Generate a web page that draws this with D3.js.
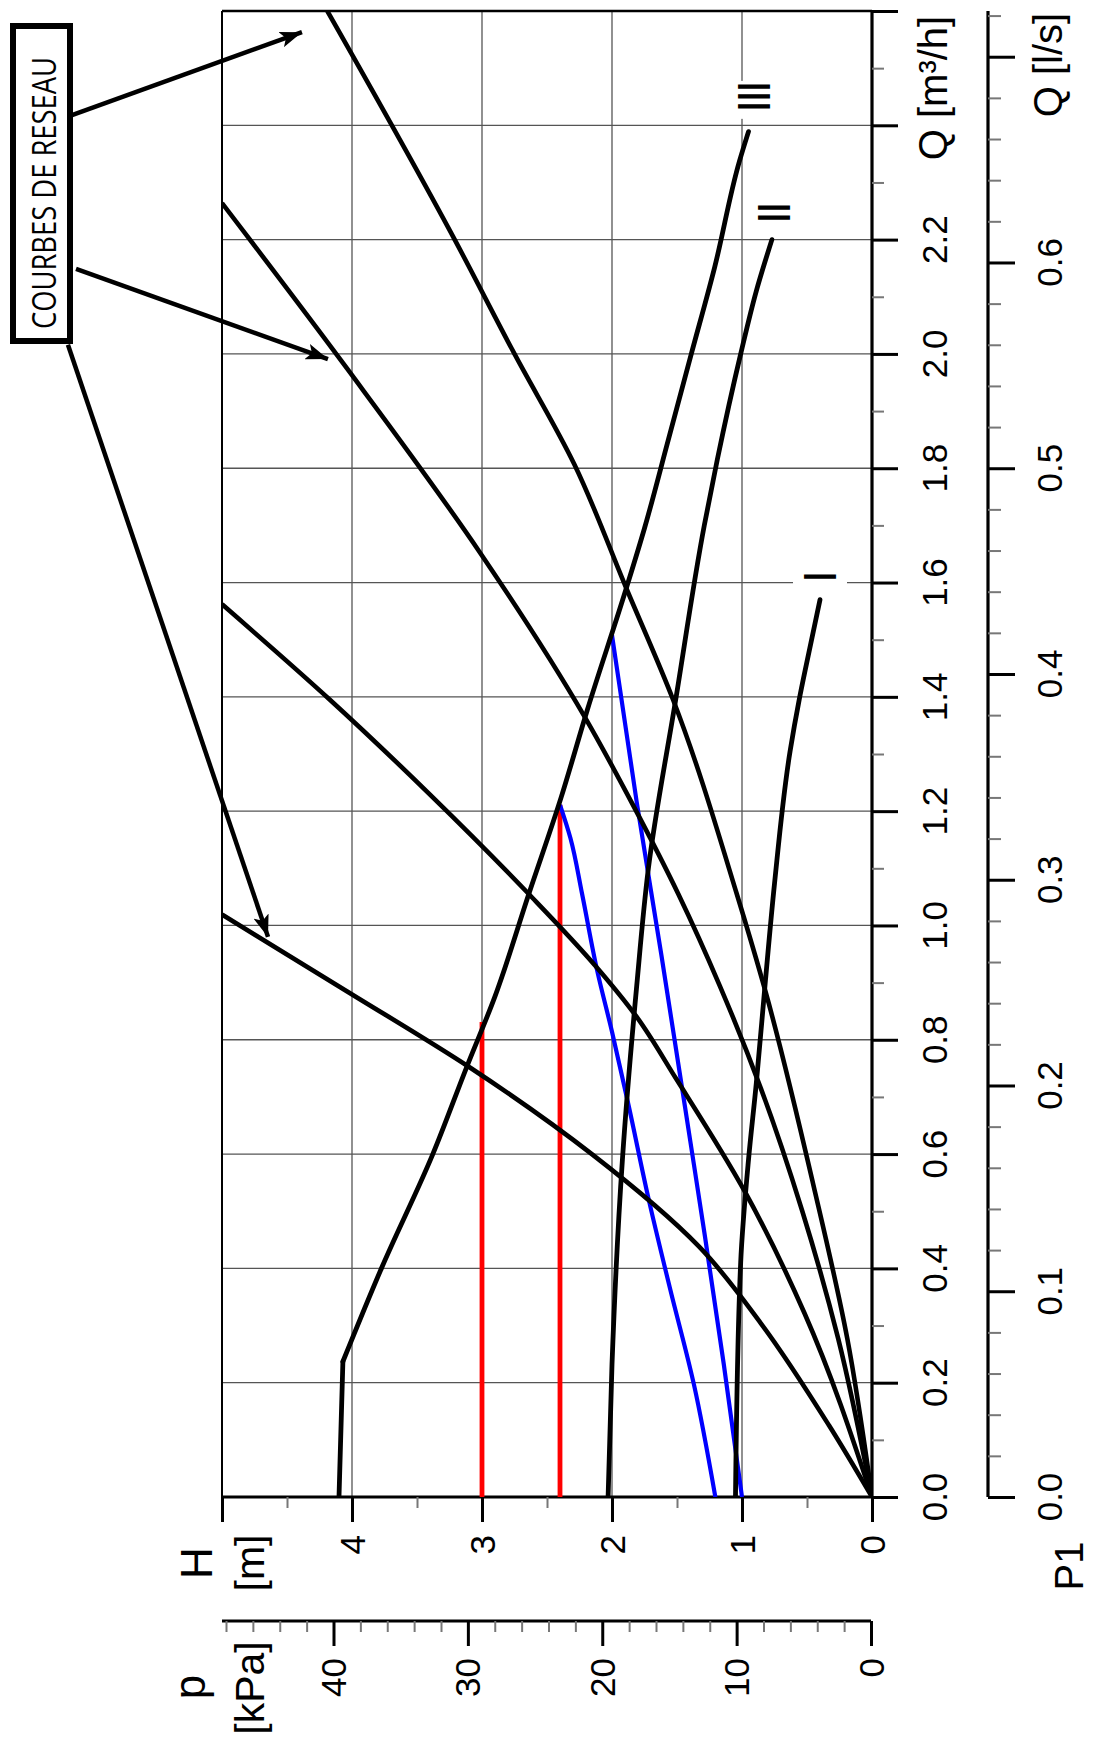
<!DOCTYPE html>
<html><head><meta charset="utf-8">
<script src="https://cdn.jsdelivr.net/npm/d3@7"></script>
<style>body{margin:0;background:#fff}svg{display:block}</style>
</head><body>
<svg id="c" width="1093" height="1738"></svg>
<script>
// ---------- data (Q in m3/h, H in m) ----------
const qMajor = [0,0.2,0.4,0.6,0.8,1.0,1.2,1.4,1.6,1.8,2.0,2.2,2.4,2.6];
const qMinor = [0.1,0.3,0.5,0.7,0.9,1.1,1.3,1.5,1.7,1.9,2.1,2.3,2.5];
const qLabels = ["0.0","0.2","0.4","0.6","0.8","1.0","1.2","1.4","1.6","1.8","2.0","2.2"];
const qlsMajor = [0,0.1,0.2,0.3,0.4,0.5,0.6,0.7];
const qlsMinor = [0.02,0.04,0.06,0.08,0.12,0.14,0.16,0.18,0.22,0.24,0.26,0.28,0.32,0.34,0.36,0.38,0.42,0.44,0.46,0.48,0.52,0.54,0.56,0.58,0.62,0.64,0.66,0.68,0.72];
const qlsLabels = ["0.0","0.1","0.2","0.3","0.4","0.5","0.6"];
const hMajor = [0,1,2,3,4,5];
const hMinor = [0.5,1.5,2.5,3.5,4.5];
const hLabels = ["0","1","2","3","4"];
const pMajor = [0,10,20,30,40];
const pMinor = [2,4,6,8,12,14,16,18,22,24,26,28,32,34,36,38,42,44,46,48];
const pLabels = ["0","10","20","30","40"];

// pump curves [Q, H]
const pumpI   = [[0,1.05],[0.411,1.01],[0.59,0.95],[0.724,0.89],[0.903,0.82],[1.073,0.75],[1.305,0.63],[1.395,0.56],[1.462,0.50],[1.57,0.40]];
const pumpII  = [[0,2.03],[0.232,2.0],[0.59,1.92],[0.894,1.81],[1.1,1.72],[1.395,1.51],[1.70,1.29],[1.815,1.19],[2.0,1.01],[2.11,0.89],[2.2,0.77]];
const pumpIIIflat = [[0,4.10],[0.237,4.07]];
const pumpIII = [[0.237,4.07],[0.402,3.77],[0.599,3.38],[0.751,3.12],[0.876,2.90],[1.055,2.64],[1.225,2.39],[1.377,2.19],[1.59,1.89],[1.695,1.75],[1.847,1.57],[2.0,1.39],[2.152,1.21],[2.337,1.02],[2.389,0.95]];
// network (system) curves [Q, H]
const net1 = [[0,0],[0.125,0.33],[0.304,0.855],[0.438,1.33],[0.599,2.15],[0.751,3.09],[0.885,4.04],[1.019,5.0]];
const net2 = [[0,0],[0.322,0.52],[0.536,0.982],[0.733,1.51],[0.84,1.81],[0.93,2.13],[1.055,2.64],[1.229,3.40],[1.395,4.17],[1.562,5.0]];
const net3 = [[0,0],[0.277,0.26],[0.50,0.536],[0.715,0.855],[0.894,1.17],[1.055,1.49],[1.207,1.83],[1.365,2.21],[1.654,3.02],[1.975,4.04],[2.264,5.0]];
const net4 = [[0,0],[0.277,0.19],[0.545,0.45],[0.885,0.82],[1.055,1.04],[1.395,1.53],[1.59,1.89],[1.807,2.29],[2.0,2.75],[2.2,3.21],[2.6,4.19]];
// control lines
const blue1 = [[0,1.205],[0.197,1.37],[0.367,1.556],[0.519,1.716],[0.688,1.875],[0.814,2.0],[0.921,2.114],[1.055,2.23],[1.153,2.32],[1.211,2.40]];
const blue2 = [[0,1.0],[0.232,1.14],[0.456,1.285],[0.626,1.40],[0.948,1.62],[1.216,1.81],[1.508,2.0]];
const red1 = [[0,3.0],[0.831,3.0]];
const red2 = [[0,2.40],[1.211,2.40]];
// curve labels [text, Q, H]
const curveLabels = [["III",2.448,0.915],["II",2.245,0.754],["I",1.608,0.40]];
// annotation arrows [Qstart, Hstart, Qtip, Htip]
const arrows = [[2.418,6.154,2.563,4.385],[2.149,6.123,1.991,4.185],[2.016,6.185,0.98,4.646]];

// ---------- scales ----------
const svg = d3.select("#c");
const hScale = d3.scaleLinear().domain([0,5]).range([872,222]);
const qScale = d3.scaleLinear().domain([0,2.6]).range([1497,11]);
const qlsScale = d3.scaleLinear().domain([0,2.6/3.6]).range([1497,11]);
const pScale = d3.scaleLinear().domain([0,40]).range([871,333.5]);
const FONT = "'Liberation Sans', Arial, Helvetica, sans-serif";

// ---------- grid ----------
const grid = svg.append("g").attr("stroke","#555").attr("stroke-width",1.3);
qMajor.filter(q=>q>0 && q<2.6).forEach(q=>{
  grid.append("line").attr("x1",hScale(5)).attr("x2",hScale(0)).attr("y1",qScale(q)).attr("y2",qScale(q));
});
hMajor.filter(h=>h>0 && h<5).forEach(h=>{
  grid.append("line").attr("x1",hScale(h)).attr("x2",hScale(h)).attr("y1",qScale(0)).attr("y2",qScale(2.6));
});
// frame (top + left)
svg.append("line").attr("x1",hScale(5)).attr("x2",hScale(0)).attr("y1",qScale(2.6)).attr("y2",qScale(2.6)).attr("stroke","#000").attr("stroke-width",2.5);
svg.append("line").attr("x1",hScale(5)).attr("x2",hScale(5)).attr("y1",qScale(2.6)).attr("y2",qScale(0)+25).attr("stroke","#000").attr("stroke-width",2);

// ---------- axes ----------
function styleAxis(g, col, w){
  g.select(".domain").remove();
  g.selectAll(".tick line").attr("stroke",col).attr("stroke-width",w);
  g.selectAll(".tick text").remove();
}
// Q m3/h axis
svg.append("line").attr("x1",872).attr("x2",872).attr("y1",qScale(2.6)).attr("y2",qScale(0)).attr("stroke","#000").attr("stroke-width",3.2);
svg.append("g").attr("transform","translate(872,0)").call(d3.axisRight(qScale).tickValues(qMinor).tickSize(12)).call(g=>styleAxis(g,"#777",2));
svg.append("g").attr("transform","translate(872,0)").call(d3.axisRight(qScale).tickValues(qMajor).tickSize(26)).call(g=>styleAxis(g,"#000",3));
qLabels.forEach((t,i)=>{
  svg.append("text").attr("transform",`translate(947,${qScale(qMajor[i])}) rotate(-90)`).attr("text-anchor","middle")
    .attr("font-family",FONT).attr("font-size",35).text(t);
});
svg.append("text").attr("transform",`translate(947,88) rotate(-90)`).attr("text-anchor","middle")
  .attr("font-family",FONT).attr("font-size",40).text("Q [m³/h]");

// Q l/s axis
svg.append("line").attr("x1",988).attr("x2",988).attr("y1",qScale(2.6)).attr("y2",qScale(0)).attr("stroke","#000").attr("stroke-width",3.2);
svg.append("g").attr("transform","translate(988,0)").call(d3.axisRight(qlsScale).tickValues(qlsMinor).tickSize(13)).call(g=>styleAxis(g,"#777",2));
svg.append("g").attr("transform","translate(988,0)").call(d3.axisRight(qlsScale).tickValues(qlsMajor).tickSize(27)).call(g=>styleAxis(g,"#000",3));
qlsLabels.forEach((t,i)=>{
  svg.append("text").attr("transform",`translate(1062,${qlsScale(qlsMajor[i])}) rotate(-90)`).attr("text-anchor","middle")
    .attr("font-family",FONT).attr("font-size",35).text(t);
});
svg.append("text").attr("transform",`translate(1062,65) rotate(-90)`).attr("text-anchor","middle")
  .attr("font-family",FONT).attr("font-size",40).text("Q [l/s]");

// H axis
svg.append("line").attr("x1",hScale(5)).attr("x2",hScale(0)).attr("y1",1497).attr("y2",1497).attr("stroke","#000").attr("stroke-width",3.2);
svg.append("g").attr("transform","translate(0,1497)").call(d3.axisBottom(hScale).tickValues(hMinor).tickSize(11)).call(g=>styleAxis(g,"#777",2));
svg.append("g").attr("transform","translate(0,1497)").call(d3.axisBottom(hScale).tickValues(hMajor).tickSize(25)).call(g=>styleAxis(g,"#000",3));
hLabels.forEach((t,i)=>{
  svg.append("text").attr("transform",`translate(${hScale(hMajor[i])+12.5},1535) rotate(-90)`).attr("text-anchor","end")
    .attr("font-family",FONT).attr("font-size",35).text(t);
});
svg.append("text").attr("transform",`translate(212,1563) rotate(-90)`).attr("text-anchor","middle")
  .attr("font-family",FONT).attr("font-size",44).text("H");
svg.append("text").attr("transform",`translate(264,1563) rotate(-90)`).attr("text-anchor","middle")
  .attr("font-family",FONT).attr("font-size",41).text("[m]");

// p axis
svg.append("line").attr("x1",hScale(5)).attr("x2",pScale(0)).attr("y1",1621).attr("y2",1621).attr("stroke","#000").attr("stroke-width",3.2);
svg.append("g").attr("transform","translate(0,1621)").call(d3.axisBottom(pScale).tickValues(pMinor).tickSize(11)).call(g=>styleAxis(g,"#777",2));
svg.append("g").attr("transform","translate(0,1621)").call(d3.axisBottom(pScale).tickValues(pMajor).tickSize(25)).call(g=>styleAxis(g,"#000",3));
pLabels.forEach((t,i)=>{
  svg.append("text").attr("transform",`translate(${pScale(pMajor[i])+12.5},1658) rotate(-90)`).attr("text-anchor","end")
    .attr("font-family",FONT).attr("font-size",35).text(t);
});
svg.append("text").attr("transform",`translate(205,1687) rotate(-90)`).attr("text-anchor","middle")
  .attr("font-family",FONT).attr("font-size",44).text("p");
svg.append("text").attr("transform",`translate(264,1688) rotate(-90)`).attr("text-anchor","middle")
  .attr("font-family",FONT).attr("font-size",41).text("[kPa]");

// P1
svg.append("text").attr("transform",`translate(1083,1566) rotate(-90)`).attr("text-anchor","middle")
  .attr("font-family",FONT).attr("font-size",40).text("P1");

// ---------- curves ----------
svg.append("clipPath").attr("id","plot").append("rect")
  .attr("x",hScale(5)).attr("y",qScale(2.6)).attr("width",hScale(0)-hScale(5)).attr("height",qScale(0)-qScale(2.6));
const lineSmooth = d3.line().x(d=>hScale(d[1])).y(d=>qScale(d[0])).curve(d3.curveMonotoneY);
const lineLin = d3.line().x(d=>hScale(d[1])).y(d=>qScale(d[0]));
const cg = svg.append("g").attr("clip-path","url(#plot)").attr("fill","none");
[red1,red2].forEach(d=>cg.append("path").attr("d",lineLin(d)).attr("stroke","#ff0000").attr("stroke-width",4.8));
[blue1,blue2].forEach(d=>cg.append("path").attr("d",lineSmooth(d)).attr("stroke","#0000ff").attr("stroke-width",4.2));
[net1,net2,net3,net4].forEach(d=>cg.append("path").attr("d",lineSmooth(d)).attr("stroke","#000").attr("stroke-width",4.6));
cg.append("path").attr("d",lineLin(pumpIIIflat)).attr("stroke","#000").attr("stroke-width",4.8).attr("stroke-linecap","round");
[pumpI,pumpII,pumpIII].forEach(d=>cg.append("path").attr("d",lineSmooth(d)).attr("stroke","#000").attr("stroke-width",4.8).attr("stroke-linecap","round").attr("stroke-linejoin","round"));

// curve labels with white backing
curveLabels.forEach(([t,q,h])=>{
  const fs = 46;
  const g = svg.append("g").attr("transform",`translate(${hScale(h)},${qScale(q)}) rotate(-90)`);
  const rect = g.append("rect").attr("fill","#fff");
  const tx = g.append("text").attr("text-anchor","middle").attr("y",0.358*fs)
    .attr("font-family",FONT).attr("font-size",fs).attr("letter-spacing",-2.8).text(t);
  const len = tx.node().getComputedTextLength();
  rect.attr("x",-len/2-6).attr("width",len+8).attr("y",-27).attr("height",54);
});

// ---------- annotation box and arrows ----------
const defs = svg.append("defs");
defs.append("marker").attr("id","ah").attr("markerUnits","userSpaceOnUse")
  .attr("markerWidth",24).attr("markerHeight",16).attr("refX",22).attr("refY",8).attr("orient","auto")
  .append("path").attr("d","M0,0 L22,8 L0,16 L5,8 Z").attr("fill","#000");
arrows.forEach(([q1,h1,q2,h2])=>{
  svg.append("line").attr("x1",hScale(h1)).attr("y1",qScale(q1)).attr("x2",hScale(h2)).attr("y2",qScale(q2))
    .attr("stroke","#000").attr("stroke-width",4.5).attr("marker-end","url(#ah)");
});
svg.append("rect").attr("x",13).attr("y",26).attr("width",57).attr("height",315)
  .attr("fill","#fff").attr("stroke","#000").attr("stroke-width",6);
svg.append("text").attr("transform","translate(56,193) rotate(-90)").attr("text-anchor","middle")
  .attr("font-family","'Open Sans', sans-serif").attr("font-size",32)
  .attr("textLength",272).attr("lengthAdjust","spacingAndGlyphs").text("COURBES DE RESEAU");
</script>
</body></html>
